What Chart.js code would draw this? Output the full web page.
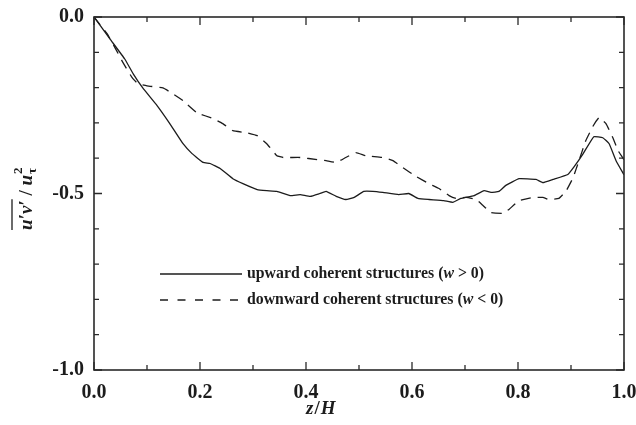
<!DOCTYPE html>
<html>
<head>
<meta charset="utf-8">
<script src="https://cdn.jsdelivr.net/npm/chart.js@4.4.1/dist/chart.umd.min.js"></script>
<style>
  body { margin: 0; background: #fff; }
  #wrap { width: 636px; height: 425px; }
</style>
</head>
<body>
<div id="wrap"><canvas id="myChart" width="636" height="425"></canvas></div>
<script>
// upward coherent structures (w > 0)
var upZ = [0, 0.030, 0.058, 0.074, 0.092, 0.119, 0.143, 0.168, 0.185, 0.206, 0.219, 0.238, 0.262, 0.281, 0.308, 0.326, 0.345, 0.370, 0.389, 0.408, 0.426, 0.438, 0.457, 0.475, 0.491, 0.509, 0.526, 0.545, 0.575, 0.594, 0.611, 0.632, 0.660, 0.677, 0.692, 0.717, 0.736, 0.749, 0.764, 0.777, 0.802, 0.834, 0.847, 0.866, 0.894, 0.906, 0.923, 0.943, 0.960, 0.972, 0.985, 1.0];
var upUV = [0, -0.062, -0.119, -0.161, -0.201, -0.251, -0.302, -0.359, -0.387, -0.412, -0.415, -0.429, -0.458, -0.472, -0.489, -0.492, -0.494, -0.506, -0.503, -0.508, -0.500, -0.494, -0.508, -0.517, -0.511, -0.494, -0.494, -0.497, -0.503, -0.500, -0.514, -0.517, -0.520, -0.525, -0.514, -0.506, -0.492, -0.497, -0.494, -0.477, -0.458, -0.460, -0.469, -0.460, -0.446, -0.424, -0.387, -0.339, -0.342, -0.359, -0.407, -0.447];

// downward coherent structures (w < 0)
var downZ = [0, 0.025, 0.040, 0.055, 0.072, 0.083, 0.100, 0.130, 0.143, 0.168, 0.194, 0.225, 0.243, 0.262, 0.289, 0.308, 0.326, 0.345, 0.357, 0.389, 0.421, 0.438, 0.457, 0.475, 0.494, 0.513, 0.545, 0.564, 0.583, 0.608, 0.632, 0.651, 0.670, 0.683, 0.702, 0.721, 0.734, 0.749, 0.772, 0.783, 0.802, 0.828, 0.847, 0.858, 0.877, 0.891, 0.904, 0.915, 0.928, 0.942, 0.953, 0.966, 0.979, 0.989, 1.0];
var downUV = [0, -0.048, -0.088, -0.130, -0.172, -0.189, -0.195, -0.201, -0.212, -0.237, -0.271, -0.288, -0.302, -0.322, -0.328, -0.336, -0.359, -0.393, -0.398, -0.398, -0.404, -0.407, -0.412, -0.398, -0.384, -0.393, -0.398, -0.407, -0.427, -0.452, -0.472, -0.486, -0.506, -0.514, -0.511, -0.517, -0.534, -0.554, -0.556, -0.545, -0.520, -0.511, -0.511, -0.517, -0.514, -0.492, -0.455, -0.407, -0.350, -0.308, -0.285, -0.302, -0.342, -0.379, -0.404];

// tick labels
var xLabels = [0, 0.2, 0.4, 0.6, 0.8, 1.0];
var yLabels = [0, -0.5, -1.0];
var seriesNames = ['upward coherent structures (', 'downward coherent structures ('];
var seriesTails = [' > 0)', ' < 0)'];

var ink = '#1c1c1c';
var serif = "'Liberation Serif', 'DejaVu Serif', serif";

function toPoints(xs, ys){
	var pts = [];
	for(var i=0; i<xs.length; i++){
		pts.push({x: xs[i], y: ys[i]});
	}
	return pts;
}

function isLabel(list, v){
	for(var i=0; i<list.length; i++){
		if(Math.abs(list[i] - v) < 1e-6) return true;
	}
	return false;
}

// frame, inward ticks, legend and axis titles
var decorations = {
	id: 'decorations',
	afterDraw: function(chart){
		var ctx = chart.ctx;
		var a = chart.chartArea;
		var xs = chart.scales.x, ys = chart.scales.y;
		ctx.save();
		ctx.strokeStyle = '#2a2a2a';
		ctx.lineWidth = 1.6;
		ctx.strokeRect(a.left, a.top, a.right - a.left, a.bottom - a.top);

		ctx.lineWidth = 1.3;
		ctx.beginPath();
		for(var i=0; i<=10; i++){
			var v = i / 10;
			var px = xs.getPixelForValue(v);
			var len = (i % 2 === 0) ? 8 : 5;
			ctx.moveTo(px, a.bottom); ctx.lineTo(px, a.bottom - len);
			ctx.moveTo(px, a.top); ctx.lineTo(px, a.top + len);
			var yv = -i / 10;
			var py = ys.getPixelForValue(yv);
			var ylen = (i % 5 === 0) ? 8 : 5;
			ctx.moveTo(a.left, py); ctx.lineTo(a.left + ylen, py);
			ctx.moveTo(a.right, py); ctx.lineTo(a.right - ylen, py);
		}
		ctx.stroke();

		// legend
		var lx = 160, ly = [274, 300];
		ctx.strokeStyle = ink;
		ctx.lineWidth = 1.3;
		for(var k=0; k<2; k++){
			ctx.setLineDash(k === 0 ? [] : [8, 9.5]);
			ctx.beginPath();
			ctx.moveTo(lx, ly[k]); ctx.lineTo(lx + 82, ly[k]);
			ctx.stroke();
			ctx.setLineDash([]);
			ctx.fillStyle = ink;
			ctx.textBaseline = 'middle';
			ctx.textAlign = 'left';
			var tx = lx + 87;
			ctx.font = 'bold 15.8px ' + serif;
			ctx.fillText(seriesNames[k], tx, ly[k]);
			tx += ctx.measureText(seriesNames[k]).width;
			ctx.font = 'italic bold 15.8px ' + serif;
			ctx.fillText('w', tx, ly[k]);
			tx += ctx.measureText('w').width;
			ctx.font = 'bold 15.8px ' + serif;
			ctx.fillText(seriesTails[k], tx, ly[k]);
		}

		// x title z/H
		ctx.textBaseline = 'alphabetic';
		var zx = 306, zy = 414;
		ctx.font = 'italic bold 19px ' + serif;
		ctx.fillText('z', zx, zy);
		zx += ctx.measureText('z').width + 1;
		ctx.font = 'bold 19px ' + serif;
		ctx.fillText('/', zx, zy);
		zx += ctx.measureText('/').width + 1;
		ctx.font = 'italic bold 19px ' + serif;
		ctx.fillText('H', zx, zy);

		// y title, rotated: overline u'v' / u_tau^2
		ctx.translate(32, 230);
		ctx.rotate(-Math.PI / 2);
		var t = 0;
		ctx.font = 'italic bold 19px ' + serif;
		ctx.fillText('u\u2032v\u2032', t, 0);
		var w1 = ctx.measureText('u\u2032v\u2032').width;
		ctx.lineWidth = 1.3;
		ctx.beginPath();
		ctx.moveTo(0, -20); ctx.lineTo(w1 + 1, -20);
		ctx.stroke();
		t += w1;
		ctx.font = 'bold 19px ' + serif;
		ctx.fillText(' / ', t, 0);
		t += ctx.measureText(' / ').width;
		ctx.font = 'italic bold 19px ' + serif;
		ctx.fillText('u', t, 0);
		t += ctx.measureText('u').width + 1;
		ctx.font = 'bold 13px ' + serif;
		ctx.fillText('\u03c4', t, 4);
		ctx.fillText('2', t, -10);
		ctx.restore();
	}
};

var chartData = {
	datasets: [
		{
			label: 'upward',
			data: toPoints(upZ, upUV),
			showLine: true,
			borderColor: ink,
			borderWidth: 1.3,
			pointRadius: 0,
			tension: 0.1
		},
		{
			label: 'downward',
			data: toPoints(downZ, downUV),
			showLine: true,
			borderColor: ink,
			borderWidth: 1.3,
			borderDash: [10, 7],
			pointRadius: 0,
			tension: 0.1
		}
	]
};

var chartOptions = {
	responsive: false,
	maintainAspectRatio: false,
	animation: false,
	layout: { padding: { top: 17, right: 12, left: 0, bottom: 0 } },
	plugins: { legend: { display: false }, tooltip: { enabled: false } },
	scales: {
		x: {
			type: 'linear', min: 0, max: 1,
			grid: { display: false, drawTicks: false },
			border: { display: false },
			afterFit: function(s){ s.height = 55; s.paddingLeft = 0; s.paddingRight = 0; },
			ticks: {
				stepSize: 0.1, padding: 11, maxRotation: 0, autoSkip: false,
				color: ink,
				font: { family: serif, size: 20, weight: 'bold' },
				callback: function(v){ return isLabel(xLabels, v) ? Number(v).toFixed(1) : ''; }
			}
		},
		y: {
			type: 'linear', min: -1, max: 0,
			grid: { display: false, drawTicks: false },
			border: { display: false },
			afterFit: function(s){ s.width = 94; s.paddingTop = 0; s.paddingBottom = 0; },
			ticks: {
				stepSize: 0.1, padding: 10, autoSkip: false,
				color: ink,
				font: { family: serif, size: 20, weight: 'bold' },
				callback: function(v){ return isLabel(yLabels, v) ? Number(v).toFixed(1) : ''; }
			}
		}
	}
};

var ctx = document.getElementById('myChart').getContext('2d');
var myChart = new Chart(ctx, {
	type: 'scatter',
	data: chartData,
	options: chartOptions,
	plugins: [decorations]
});
</script>
</body>
</html>
